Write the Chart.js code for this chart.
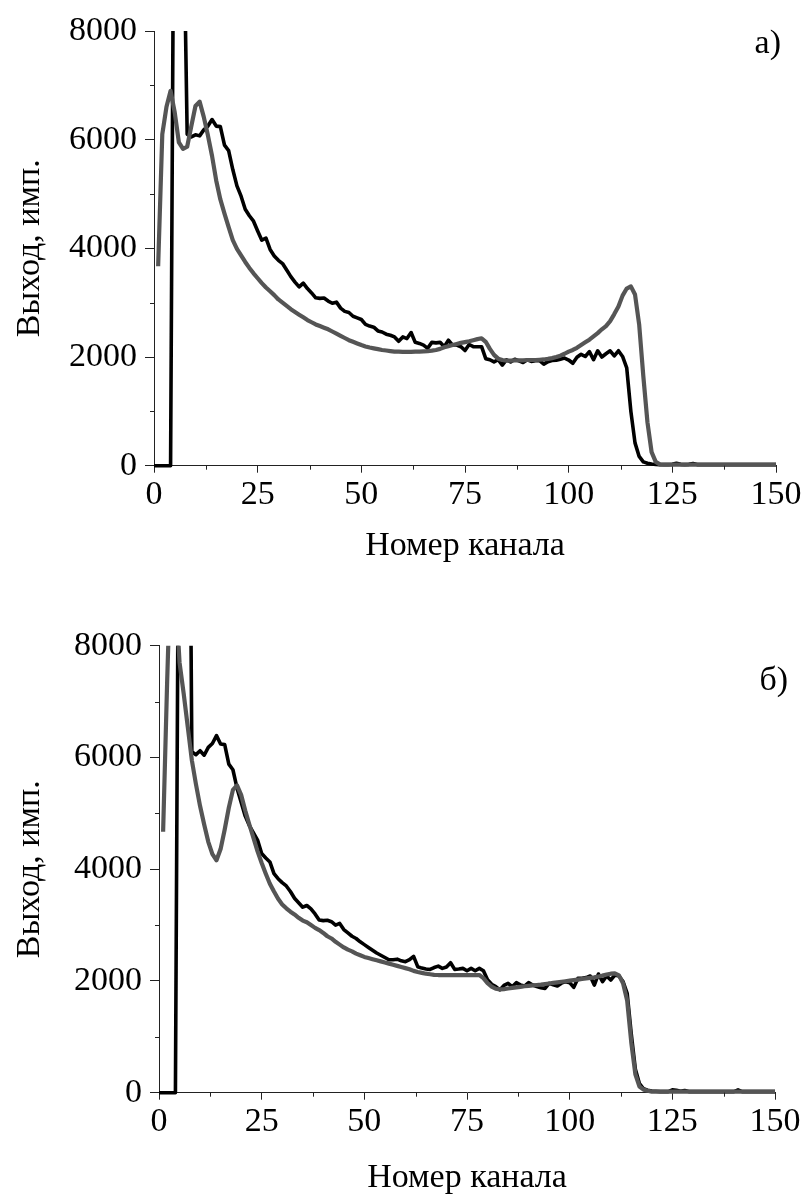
<!DOCTYPE html>
<html><head><meta charset="utf-8">
<script src="https://cdn.jsdelivr.net/npm/chart.js@4.4.1/dist/chart.umd.min.js"></script>
<style>body{margin:0;background:#fff;} canvas{display:block;}</style>
</head><body>
<canvas id="chartA" width="806" height="598"></canvas>
<canvas id="chartB" width="806" height="598"></canvas>
<script>
// ---------- DATA ----------
const channels = [0,1,2,3,4,5,6,7,8,9,10,11,12,13,14,15,16,17,18,19,20,21,22,23,24,25,26,27,28,29,30,31,32,33,34,35,36,37,38,39,40,41,42,43,44,45,46,47,48,49,50,51,52,53,54,55,56,57,58,59,60,61,62,63,64,65,66,67,68,69,70,71,72,73,74,75,76,77,78,79,80,81,82,83,84,85,86,87,88,89,90,91,92,93,94,95,96,97,98,99,100,101,102,103,104,105,106,107,108,109,110,111,112,113,114,115,116,117,118,119,120,121,122,123,124,125,126,127,128,129,130,131,132,133,134,135,136,137,138,139,140,141,142,143,144,145,146,147,148,149,150];

// panel а) — black (noisy) series
const blackA = [0,0,0,0,0,14000,15000,10850,6100,6050,
6090,6070,6180,6250,6370,6250,6240,5900,5800,5450,
5150,4960,4720,4600,4500,4320,4150,4190,3980,3860,
3780,3720,3600,3480,3380,3290,3360,3260,3180,3090,
3080,3085,3030,2990,3010,2900,2840,2820,2750,2720,
2690,2600,2570,2550,2480,2460,2420,2400,2370,2290,
2370,2340,2450,2270,2250,2220,2160,2270,2260,2270,
2190,2310,2220,2220,2190,2120,2230,2190,2190,2190,
1970,1950,1910,1950,1850,1950,1910,1960,1930,1900,
1950,1920,1930,1935,1870,1915,1935,1940,1960,1980,
1945,1885,1995,2050,2010,2100,1950,2115,2000,2060,
2115,2020,2115,2010,1800,1000,420,170,70,45,
30,25,20,20,20,25,45,25,20,25,
40,20,20,20,20,20,20,20,20,20,
20,20,20,20,20,20,20,20,20,20,20];

// panel а) — grey (smooth) series
const greyA = [null,3670,6100,6600,6900,6500,5950,5830,5870,6250,
6620,6700,6420,6080,5700,5250,4900,4640,4390,4150,
3990,3870,3750,3640,3540,3450,3360,3280,3210,3140,
3060,3000,2940,2880,2830,2780,2730,2680,2640,2600,
2570,2540,2510,2470,2430,2390,2350,2310,2280,2250,
2220,2195,2175,2160,2145,2130,2120,2110,2100,2100,
2095,2095,2095,2100,2100,2105,2110,2118,2130,2150,
2180,2200,2220,2240,2260,2275,2290,2310,2330,2345,
2280,2150,2040,1970,1945,1935,1935,1940,1940,1940,
1945,1945,1945,1950,1955,1965,1980,2000,2025,2060,
2100,2130,2170,2220,2270,2320,2380,2440,2510,2570,
2660,2790,2930,3130,3260,3300,3150,2600,1650,800,
250,70,25,20,20,20,20,20,20,20,
20,20,20,20,20,20,20,20,20,20,
20,20,20,20,20,20,20,20,20,20,20];

// panel б) — black (noisy) series
const blackB = [0,0,0,0,0,14000,17000,16000,6100,6050,
6120,6040,6180,6250,6390,6240,6230,5880,5780,5450,
5200,4950,4780,4650,4520,4280,4200,4130,3920,3830,
3760,3700,3600,3480,3400,3320,3350,3290,3200,3090,
3080,3085,3060,3000,3030,2920,2860,2800,2760,2700,
2650,2600,2550,2500,2460,2420,2380,2380,2390,2360,
2345,2380,2440,2255,2230,2215,2205,2240,2265,2225,
2250,2326,2207,2215,2225,2183,2225,2183,2225,2183,
2020,1940,1900,1840,1920,1957,1897,1969,1930,1909,
1969,1927,1900,1880,1867,1957,1930,1909,1960,1987,
1969,1885,2046,2046,2060,2088,1927,2124,1987,2088,
2017,2106,2088,1987,1780,1050,420,160,70,45,
30,25,20,20,20,50,45,25,40,20,
20,20,20,20,20,20,20,20,20,20,
20,50,20,20,20,20,20,20,20,20,20];

// panel б) — grey (smooth) series
const greyB = [null,4670,7400,9800,9000,7700,7150,6550,5950,5520,
5130,4800,4490,4270,4160,4360,4710,5100,5420,5500,
5330,5050,4800,4560,4320,4110,3920,3740,3600,3470,
3370,3300,3240,3190,3130,3080,3050,3000,2950,2910,
2860,2800,2760,2700,2650,2600,2560,2530,2490,2460,
2430,2410,2390,2370,2350,2330,2310,2290,2270,2250,
2230,2210,2180,2160,2145,2130,2120,2110,2106,2106,
2106,2106,2106,2106,2106,2106,2106,2106,2106,2050,
1960,1900,1860,1850,1855,1865,1875,1885,1895,1905,
1912,1920,1927,1935,1945,1955,1965,1975,1985,1995,
2005,2015,2025,2035,2045,2055,2065,2080,2095,2115,
2130,2136,2100,1960,1650,900,330,110,55,35,
20,20,20,20,20,20,20,20,20,20,
20,20,20,20,20,20,20,20,20,20,
20,20,20,20,20,20,20,20,20,20,20];

const yMajorTicks = [0, 2000, 4000, 6000, 8000];
const yMinorTicks = [1000, 3000, 5000, 7000];
const xMajorTicks = [0, 25, 50, 75, 100, 125, 150];
const xMinorTicks = [12.5, 37.5, 62.5, 87.5, 112.5, 137.5];
const xTitle = 'Номер канала';
const yTitle = 'Выход, имп.';
const panelLabels = ['а)', 'б)'];

// ---------- STYLE ----------
const FONT = 'Liberation Serif, Times New Roman, serif';
const FS = 34;
const AXIS = '#222';

const minorTicksPlugin = {
  id: 'minorTicks',
  afterDraw(chart) {
    const {ctx} = chart;
    const xs = chart.scales.x, ys = chart.scales.y;
    const a = chart.chartArea;
    ctx.save();
    ctx.strokeStyle = AXIS; ctx.lineWidth = 1;
    ctx.beginPath();
    yMinorTicks.forEach(v => {
      const p = Math.round(ys.getPixelForValue(v)) + 0.5;
      ctx.moveTo(a.left - 4, p); ctx.lineTo(a.left, p);
    });
    xMinorTicks.forEach(v => {
      const p = Math.round(xs.getPixelForValue(v)) + 0.5;
      ctx.moveTo(p, a.bottom); ctx.lineTo(p, a.bottom + 4);
    });
    ctx.stroke();
    ctx.restore();
  }
};

const panelLabelPlugin = {
  id: 'panelLabel',
  afterDraw(chart, args, opts) {
    const {ctx} = chart;
    ctx.save();
    ctx.font = FS + 'px ' + FONT;
    ctx.fillStyle = '#000';
    ctx.textAlign = 'right';
    ctx.textBaseline = 'alphabetic';
    ctx.fillText(opts.text, opts.x, opts.y);
    ctx.restore();
  }
};

function makeChart(id, black, grey, g) {
  new Chart(document.getElementById(id), {
    type: 'line',
    data: {
      labels: channels,
      datasets: [
        { data: grey, borderColor: '#555555', borderWidth: 4.2, pointRadius: 0, tension: 0,
          borderJoinStyle: 'round', clip: {left: 5, right: 5, top: 0, bottom: 5} },
        { data: black, borderColor: '#000000', borderWidth: 3.6, pointRadius: 0, tension: 0,
          borderJoinStyle: 'round', clip: {left: 5, right: 5, top: 0, bottom: 5} }
      ]
    },
    options: {
      responsive: false,
      animation: false,
      events: [],
      layout: { padding: { top: g.padTop, right: g.padRight, left: 0, bottom: 0 } },
      plugins: {
        legend: { display: false },
        tooltip: { enabled: false },
        panelLabel: { text: g.label, x: g.labelX, y: g.labelY }
      },
      scales: {
        x: {
          type: 'linear', min: 0, max: 150,
          afterBuildTicks: s => { s.ticks = xMajorTicks.map(v => ({ value: v })); },
          afterFit: s => { s.height = g.xHeight; },
          grid: { drawOnChartArea: false, drawTicks: true, tickLength: 7, tickColor: AXIS },
          border: { display: true, color: AXIS, width: 1 },
          ticks: { autoSkip: false, maxRotation: 0, minRotation: 0, padding: 2, color: '#000',
                   font: { family: FONT, size: FS }, callback: v => String(v) },
          title: { display: true, text: xTitle, color: '#000', font: { family: FONT, size: FS },
                   padding: { top: 0, bottom: g.xTitlePad } }
        },
        y: {
          type: 'linear', min: 0, max: 8000,
          afterBuildTicks: s => { s.ticks = yMajorTicks.map(v => ({ value: v })); },
          afterFit: s => { s.width = g.yWidth; },
          grid: { drawOnChartArea: false, drawTicks: true, tickLength: 9, tickColor: AXIS },
          border: { display: true, color: AXIS, width: 1 },
          ticks: { padding: 8, color: '#000', font: { family: FONT, size: FS }, callback: v => String(v) },
          title: { display: true, text: yTitle, color: '#000', font: { family: FONT, size: FS },
                   padding: { top: 10, bottom: 0 } }
        }
      }
    },
    plugins: [minorTicksPlugin, panelLabelPlugin]
  });
}

makeChart('chartA', blackA, greyA, {
  padTop: 31, padRight: 30, yWidth: 154, xHeight: 132.3, xTitlePad: 32,
  label: panelLabels[0], labelX: 781, labelY: 53
});
makeChart('chartB', blackB, greyB, {
  padTop: 47.7, padRight: 31, yWidth: 159, xHeight: 103.3, xTitlePad: -2,
  label: panelLabels[1], labelX: 788, labelY: 92
});
</script>
</body></html>
